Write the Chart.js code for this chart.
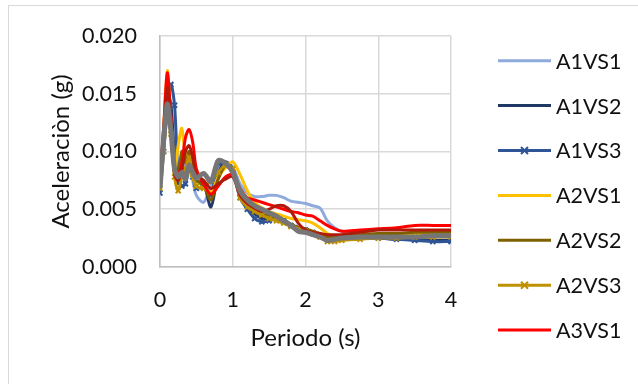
<!DOCTYPE html>
<html>
<head>
<meta charset="utf-8">
<script src="https://cdn.jsdelivr.net/npm/chart.js@4"></script>
<style>
  html, body { margin: 0; padding: 0; background: #fff; overflow: hidden; }
  #marco { position: absolute; left: 8px; top: 5px; width: 700px; height: 400px;
           border-left: 1px solid #d9d9d9; border-top: 1px solid #d9d9d9; }
  #wrap { position: absolute; left: 0; top: 0; width: 638px; height: 384px; }
</style>
</head>
<body>
<div id="marco"></div>
<div id="wrap"><canvas id="grafico" width="638" height="384"></canvas></div>
<script>
// periodos (s)
var periodos = [0, 0.05, 0.1, 0.15, 0.2, 0.25, 0.3, 0.35, 0.4, 0.45, 0.5, 0.6, 0.7, 0.8, 0.9, 1.0,
  1.1, 1.2, 1.3, 1.4, 1.5, 1.6, 1.7, 1.8, 1.9, 2.0, 2.1, 2.2, 2.3, 2.4, 2.5, 2.75, 3.0, 3.25, 3.5, 3.75, 4.0];

// aceleraciones espectrales (g)
var a1vs1 = [0.0075, 0.012, 0.0156, 0.0130, 0.0090, 0.0078, 0.0095, 0.0085, 0.0090, 0.0075, 0.0062, 0.0056, 0.0070, 0.0085, 0.0089, 0.0086,
  0.0072, 0.0064, 0.0061, 0.0061, 0.0062, 0.0062, 0.0060, 0.0057, 0.0056, 0.0055, 0.0053, 0.0051, 0.0040, 0.0034, 0.0031, 0.0029, 0.0028, 0.0028, 0.0028, 0.0028, 0.0028];
var a1vs2 = [0.0070, 0.011, 0.0150, 0.0140, 0.0095, 0.0072, 0.0088, 0.0080, 0.0098, 0.0085, 0.0075, 0.0072, 0.0052, 0.0080, 0.0091, 0.0085,
  0.0065, 0.0052, 0.0046, 0.0042, 0.0042, 0.0044, 0.0041, 0.0037, 0.0034, 0.0033, 0.0030, 0.0028, 0.0025, 0.0024, 0.0025, 0.0025, 0.0025, 0.0024, 0.0024, 0.0023, 0.0023];
var a1vs3 = [0.0064, 0.010, 0.0135, 0.0158, 0.0140, 0.0080, 0.0070, 0.0072, 0.0085, 0.0078, 0.0068, 0.0070, 0.0062, 0.0090, 0.0088, 0.0082,
  0.0060, 0.0050, 0.0042, 0.0039, 0.0040, 0.0042, 0.0040, 0.0036, 0.0034, 0.0032, 0.0030, 0.0027, 0.0024, 0.0024, 0.0025, 0.0025, 0.0025, 0.0024, 0.0023, 0.0022, 0.0022];
var a2vs1 = [0.0072, 0.012, 0.0170, 0.0125, 0.0082, 0.0105, 0.0120, 0.0095, 0.0088, 0.0078, 0.0070, 0.0068, 0.0065, 0.0078, 0.0086, 0.0091,
  0.0080, 0.0066, 0.0056, 0.0051, 0.0048, 0.0046, 0.0044, 0.0042, 0.0041, 0.0040, 0.0038, 0.0034, 0.0029, 0.0026, 0.0027, 0.0027, 0.0028, 0.0028, 0.0028, 0.0029, 0.0029];
var a2vs2 = [0.0070, 0.011, 0.0148, 0.0120, 0.0085, 0.0080, 0.0100, 0.0090, 0.0100, 0.0085, 0.0075, 0.0070, 0.0058, 0.0076, 0.0088, 0.0083,
  0.0066, 0.0055, 0.0050, 0.0046, 0.0044, 0.0042, 0.0040, 0.0037, 0.0034, 0.0033, 0.0031, 0.0029, 0.0026, 0.0026, 0.0027, 0.0028, 0.0029, 0.0029, 0.0030, 0.0030, 0.0030];
var a2vs3 = [0.0068, 0.0100, 0.0138, 0.0115, 0.0078, 0.0066, 0.0078, 0.0085, 0.0095, 0.0080, 0.0070, 0.0068, 0.0075, 0.0082, 0.0088, 0.0085,
  0.0060, 0.0052, 0.0048, 0.0045, 0.0042, 0.0040, 0.0038, 0.0035, 0.0033, 0.0031, 0.0029, 0.0026, 0.0022, 0.0022, 0.0023, 0.0024, 0.0025, 0.0025, 0.0026, 0.0026, 0.0026];
var a3vs1 = [0.0075, 0.012, 0.0168, 0.0130, 0.0085, 0.0080, 0.0090, 0.0112, 0.0119, 0.0108, 0.0085, 0.0072, 0.0063, 0.0070, 0.0078, 0.0080,
  0.0068, 0.0060, 0.0058, 0.0056, 0.0054, 0.0052, 0.0050, 0.0048, 0.0047, 0.0045, 0.0044, 0.0040, 0.0036, 0.0033, 0.0031, 0.0032, 0.0033, 0.0034, 0.0036, 0.0036, 0.0036];
var a3vs2 = [0.0072, 0.011, 0.0155, 0.0125, 0.0080, 0.0075, 0.0085, 0.0100, 0.0105, 0.0095, 0.0080, 0.0075, 0.0068, 0.0072, 0.0076, 0.0078,
  0.0062, 0.0055, 0.0051, 0.0048, 0.0050, 0.0053, 0.0053, 0.0048, 0.0038, 0.0032, 0.0030, 0.0029, 0.0028, 0.0028, 0.0028, 0.0030, 0.0032, 0.0032, 0.0032, 0.0032, 0.0032];
var a3vs3 = [0.0068, 0.011, 0.0141, 0.0118, 0.0085, 0.0078, 0.0082, 0.0076, 0.0088, 0.0082, 0.0077, 0.0081, 0.0074, 0.0092, 0.0090, 0.0082,
  0.0066, 0.0058, 0.0053, 0.0050, 0.0047, 0.0044, 0.0040, 0.0036, 0.0031, 0.0030, 0.0028, 0.0026, 0.0023, 0.0024, 0.0025, 0.0026, 0.0026, 0.0026, 0.0026, 0.0027, 0.0027];

var nombres = ["A1VS1", "A1VS2", "A1VS3", "A2VS1", "A2VS2", "A2VS3", "A3VS1", "A3VS2", "A3VS3"];
var series = [a1vs1, a1vs2, a1vs3, a2vs1, a2vs2, a2vs3, a3vs1, a3vs2, a3vs3];
var colores = ["#8faadc", "#203864", "#2f5597", "#ffc000", "#7f6000", "#bf9000", "#ff0000", "#b01a0a", "#767676"];
var conMarca = [false, false, true, false, false, true, false, false, false];
var grosor = [3, 3, 3, 3, 3, 3, 3, 3, 5];
var enLeyenda = 7; // la leyenda de Excel solo muestra las 7 primeras

var yTicks = [0, 0.005, 0.010, 0.015, 0.020];
var xTicks = [0, 1, 2, 3, 4];

var FUENTE = "Lato, 'Open Sans', sans-serif";
var TXT = "#111";

var datasets = series.map(function (s, i) {
  return {
    label: nombres[i],
    data: s.map(function (v, k) { return { x: periodos[k], y: v }; }),
    borderColor: colores[i], backgroundColor: colores[i],
    borderWidth: grosor[i], tension: 0.3, fill: false,
    pointStyle: "crossRot", pointRadius: conMarca[i] ? 3.5 : 0, pointBorderWidth: 2,
    pointBorderColor: colores[i], order: series.length - i
  };
});

// leyenda dibujada a mano, como en Excel
var leyenda = {
  id: "leyendaExcel",
  afterDraw: function (c) {
    var ctx = c.ctx;
    ctx.save();
    ctx.font = "21.5px " + FUENTE;
    ctx.textBaseline = "middle";
    for (var i = 0; i < enLeyenda; i++) {
      var y = 60.7 + i * 44.9;
      ctx.strokeStyle = colores[i]; ctx.lineWidth = 3;
      ctx.beginPath(); ctx.moveTo(498, y); ctx.lineTo(551, y); ctx.stroke();
      if (conMarca[i]) {
        ctx.lineWidth = 2;
        ctx.beginPath();
        ctx.moveTo(521, y - 3.5); ctx.lineTo(528, y + 3.5);
        ctx.moveTo(528, y - 3.5); ctx.lineTo(521, y + 3.5);
        ctx.stroke();
      }
      ctx.fillStyle = TXT;
      ctx.fillText(nombres[i], 556, y + 1);
    }
    ctx.restore();
  }
};

new Chart(document.getElementById("grafico"), {
  type: "line",
  data: { datasets: datasets },
  plugins: [leyenda],
  options: {
    responsive: false, animation: false,
    layout: { padding: { left: 0, top: 34, right: 187, bottom: 0 } },
    scales: {
      x: {
        type: "linear", min: 0, max: 4,
        afterBuildTicks: function (s) { s.ticks = xTicks.map(function (v) { return { value: v }; }); },
        afterFit: function (s) { s.height = 117; },
        ticks: { color: TXT, font: { family: FUENTE, size: 21.5 }, padding: 20, maxRotation: 0 },
        grid: { color: "#d9d9d9", lineWidth: 1.5, drawTicks: false },
        border: { color: "#bfbfbf", width: 1.5 },
        title: { display: true, text: "Periodo (s)", color: TXT, font: { family: FUENTE, size: 24 },
                 padding: { top: 0, bottom: 31.5 } }
      },
      y: {
        min: 0, max: 0.02,
        afterBuildTicks: function (s) { s.ticks = yTicks.map(function (v) { return { value: v }; }); },
        afterFit: function (s) { s.width = 160; },
        ticks: { color: TXT, font: { family: FUENTE, size: 21.5 }, padding: 23,
                 callback: function (v) { return Number(v).toFixed(3); } },
        grid: { color: "#d9d9d9", lineWidth: 1.5, drawTicks: false },
        border: { color: "#bfbfbf", width: 1.5 },
        title: { display: true, text: "Aceleraciòn (g)", color: TXT, font: { family: FUENTE, size: 24 },
                 padding: { top: 46.5, bottom: 0 } }
      }
    },
    plugins: { legend: { display: false }, tooltip: { enabled: false } }
  }
});
</script>
</body>
</html>
